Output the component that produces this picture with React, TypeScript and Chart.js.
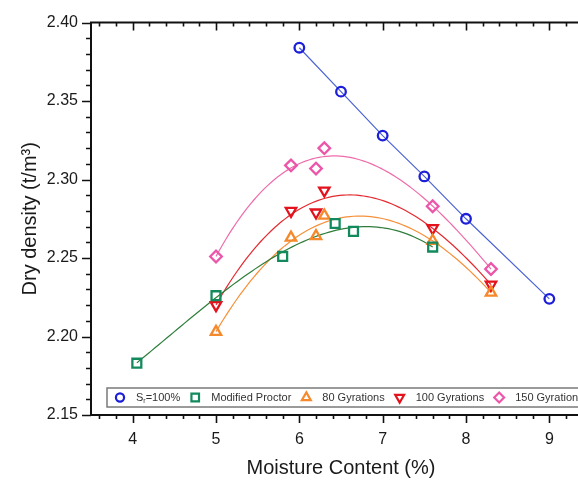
import React, { useEffect, useRef } from "react";
import { Chart, registerables } from "chart.js";
import { drawPoint } from "chart.js/helpers";

Chart.register(...registerables);

// ---- data ----
const xTickValues = [4, 5, 6, 7, 8, 9];
const yTickValues = [2.15, 2.2, 2.25, 2.3, 2.35, 2.4];

const srX = [6.0, 6.5, 7.0, 7.5, 8.0, 9.0];
const srY = [2.384, 2.356, 2.328, 2.302, 2.275, 2.224];

const proctorX = [4.05, 5.0, 5.8, 6.43, 6.65, 7.6];
const proctorY = [2.183, 2.226, 2.251, 2.272, 2.267, 2.257];

const g80X = [5.0, 5.9, 6.2, 6.3, 7.6, 8.3];
const g80Y = [2.203, 2.263, 2.264, 2.277, 2.261, 2.228];

const g100X = [5.0, 5.9, 6.2, 6.3, 7.6, 8.3];
const g100Y = [2.22, 2.28, 2.279, 2.293, 2.269, 2.233];

const g150X = [5.0, 5.9, 6.2, 6.3, 7.6, 8.3];
const g150Y = [2.251, 2.309, 2.307, 2.32, 2.283, 2.243];

const FONT = "'Liberation Sans', Arial, sans-serif";

// least-squares polynomial fit (like the original's fitted curves)
function polyFit(xs: number[], ys: number[], deg: number) {
  const mx = xs.reduce((a, b) => a + b, 0) / xs.length;
  const n = deg + 1;
  const A: number[][] = Array.from({ length: n }, () => new Array(n + 1).fill(0));
  for (let k = 0; k < xs.length; k++) {
    const t = xs[k] - mx;
    for (let i = 0; i < n; i++) {
      for (let j = 0; j < n; j++) A[i][j] += Math.pow(t, i + j);
      A[i][n] += ys[k] * Math.pow(t, i);
    }
  }
  for (let c = 0; c < n; c++) {
    let p = c;
    for (let r = c + 1; r < n; r++) if (Math.abs(A[r][c]) > Math.abs(A[p][c])) p = r;
    [A[c], A[p]] = [A[p], A[c]];
    for (let r = 0; r < n; r++) {
      if (r === c) continue;
      const f = A[r][c] / A[c][c];
      for (let j = c; j <= n; j++) A[r][j] -= f * A[c][j];
    }
  }
  const coef = A.map((row, i) => row[n] / row[i]);
  return (x: number) => coef.reduce((s, c, i) => s + c * Math.pow(x - mx, i), 0);
}

function fitCurve(xs: number[], ys: number[]) {
  const f = polyFit(xs, ys, 3);
  const lo = Math.min(...xs);
  const hi = Math.max(...xs);
  const out: { x: number; y: number }[] = [];
  const steps = 80;
  for (let i = 0; i <= steps; i++) {
    const x = lo + ((hi - lo) * i) / steps;
    out.push({ x, y: f(x) });
  }
  return out;
}

const pts = (xs: number[], ys: number[]) => xs.map((x, i) => ({ x, y: ys[i] }));

const series = [
  { label: "Sr", color: "#1c1ed8", line: "#4b63d6", style: "circle", rot: 0, radius: 4.8, xs: srX, ys: srY },
  { label: "Modified Proctor", color: "#138a5e", line: "#2e7d3a", style: "rect", rot: 0, radius: 6.3, xs: proctorX, ys: proctorY },
  { label: "80 Gyrations", color: "#f5892c", line: "#f5913a", style: "triangle", rot: 0, radius: 6, xs: g80X, ys: g80Y },
  { label: "100 Gyrations", color: "#e3121c", line: "#e32a30", style: "triangle", rot: 180, radius: 6, xs: g100X, ys: g100Y },
  { label: "150 Gyrations", color: "#ec56aa", line: "#ee6cac", style: "rectRot", rot: 0, radius: 5.8, xs: g150X, ys: g150Y },
];

const axesPlugin = {
  id: "axesDeco",
  afterDatasetsDraw(chart: any) {
    const { ctx, chartArea: a, scales } = chart;
    const xs = scales.x;
    const ys = scales.y;
    ctx.save();
    ctx.strokeStyle = "#111";
    ctx.lineWidth = 2;
    ctx.beginPath();
    ctx.rect(a.left, a.top, a.right - a.left, a.bottom - a.top);
    ctx.stroke();
    ctx.lineWidth = 1.6;
    // x ticks
    for (let v = 3.6; v <= 9.5 + 1e-9; v += 0.2) {
      const r = Math.round(v * 10) / 10;
      const major = Math.abs(r - Math.round(r)) < 1e-6;
      const px = Math.round(xs.getPixelForValue(r)) + 0.5;
      const len = major ? 8 : 4;
      ctx.beginPath();
      ctx.moveTo(px, a.bottom);
      ctx.lineTo(px, a.bottom + len);
      ctx.moveTo(px, a.top);
      ctx.lineTo(px, a.top + len);
      ctx.stroke();
    }
    // y ticks
    for (let k = 215; k <= 240; k += 1) {
      const v = k / 100;
      const major = k % 5 === 0;
      const py = Math.round(ys.getPixelForValue(v)) + 0.5;
      const len = major ? 9 : 5;
      ctx.beginPath();
      ctx.moveTo(a.left - len, py);
      ctx.lineTo(a.left, py);
      ctx.moveTo(a.right, py);
      ctx.lineTo(a.right - len, py);
      ctx.stroke();
    }
    ctx.restore();

    // legend
    ctx.save();
    const top = 388;
    const bottom = 407;
    const left = 107;
    const cy = (top + bottom) / 2;
    ctx.fillStyle = "#fff";
    ctx.fillRect(left, top, a.right - 6 - left, bottom - top);
    ctx.strokeStyle = "#7a7a7a";
    ctx.lineWidth = 1.5;
    ctx.strokeRect(left, top, a.right - 6 - left, bottom - top);
    ctx.font = `11px ${FONT}`;
    ctx.textBaseline = "middle";
    ctx.fillStyle = "#333";
    let x = 120;
    series.forEach((s, i) => {
      ctx.strokeStyle = s.color;
      ctx.fillStyle = "rgba(0,0,0,0)";
      ctx.lineWidth = 2.2;
      drawPoint(ctx, { pointStyle: s.style, radius: s.radius * 0.85, rotation: s.rot, borderWidth: 2.2 }, x, cy);
      ctx.fillStyle = "#333";
      let tx = x + 16;
      if (i === 0) {
        ctx.fillText("S", tx, cy);
        tx += ctx.measureText("S").width;
        ctx.font = `7px ${FONT}`;
        ctx.fillText("r", tx, cy + 4);
        tx += ctx.measureText("r").width;
        ctx.font = `11px ${FONT}`;
        ctx.fillText("=100%", tx, cy);
        tx += ctx.measureText("=100%").width;
      } else {
        ctx.fillText(s.label, tx, cy);
        tx += ctx.measureText(s.label).width;
      }
      x = tx + 15;
    });
    ctx.restore();
  },
};

export default function App() {
  const ref = useRef<HTMLCanvasElement | null>(null);
  useEffect(() => {
    if (!ref.current) return;
    const datasets: any[] = [];
    series.forEach((s, i) => {
      datasets.push({
        data: i === 0 ? pts(s.xs, s.ys) : fitCurve(s.xs, s.ys),
        showLine: true,
        borderColor: s.line,
        borderWidth: 1.2,
        pointRadius: 0,
        order: 10,
      });
    });
    series.forEach((s) => {
      datasets.push({
        data: pts(s.xs, s.ys),
        showLine: false,
        pointStyle: s.style,
        pointRotation: s.rot,
        pointRadius: s.radius,
        pointBorderWidth: 2.3,
        pointBorderColor: s.color,
        pointBackgroundColor: "rgba(255,255,255,0)",
        order: 1,
      });
    });
    const chart = new Chart(ref.current, {
      type: "scatter",
      data: { datasets },
      options: {
        animation: false,
        responsive: false,
        devicePixelRatio: 1,
        layout: { padding: { left: 0, top: 14, right: 29, bottom: 0 } },
        plugins: { legend: { display: false }, tooltip: { enabled: false } },
        scales: {
          x: {
            type: "linear",
            min: 3.5,
            max: 9.5,
            afterBuildTicks: (sc: any) => {
              sc.ticks = xTickValues.map((v) => ({ value: v }));
            },
            afterFit: (sc: any) => {
              sc.height = 67;
            },
            grid: { display: true, drawOnChartArea: false, drawTicks: false },
            border: { display: false },
            ticks: {
              font: { family: FONT, size: 16 },
              color: "#1a1a1a",
              padding: 15,
              maxRotation: 0,
              callback: (v: any) => String(v),
            },
            title: {
              display: true,
              text: "Moisture Content (%)",
              font: { family: FONT, size: 20 },
              color: "#1a1a1a",
              padding: { top: 0, bottom: 2 },
            },
          },
          y: {
            type: "linear",
            min: 2.15,
            max: 2.4,
            afterBuildTicks: (sc: any) => {
              sc.ticks = yTickValues.map((v) => ({ value: v }));
            },
            afterFit: (sc: any) => {
              sc.width = 91;
            },
            grid: { display: true, drawOnChartArea: false, drawTicks: false },
            border: { display: false },
            ticks: {
              font: { family: FONT, size: 16 },
              color: "#1a1a1a",
              padding: 13,
              callback: (v: any) => Number(v).toFixed(2),
            },
            title: {
              display: true,
              text: "Dry density (t/m³)",
              font: { family: FONT, size: 20 },
              color: "#1a1a1a",
              padding: { top: 18, bottom: 0 },
            },
          },
        },
      },
      plugins: [axesPlugin],
    });
    return () => chart.destroy();
  }, []);
  return (
    <div style={{ position: "absolute", left: 0, top: 0, width: 578, height: 482, overflow: "hidden", background: "#fff" }}>
      <canvas ref={ref} width={620} height={482} style={{ width: 620, height: 482, display: "block" }} />
    </div>
  );
}
